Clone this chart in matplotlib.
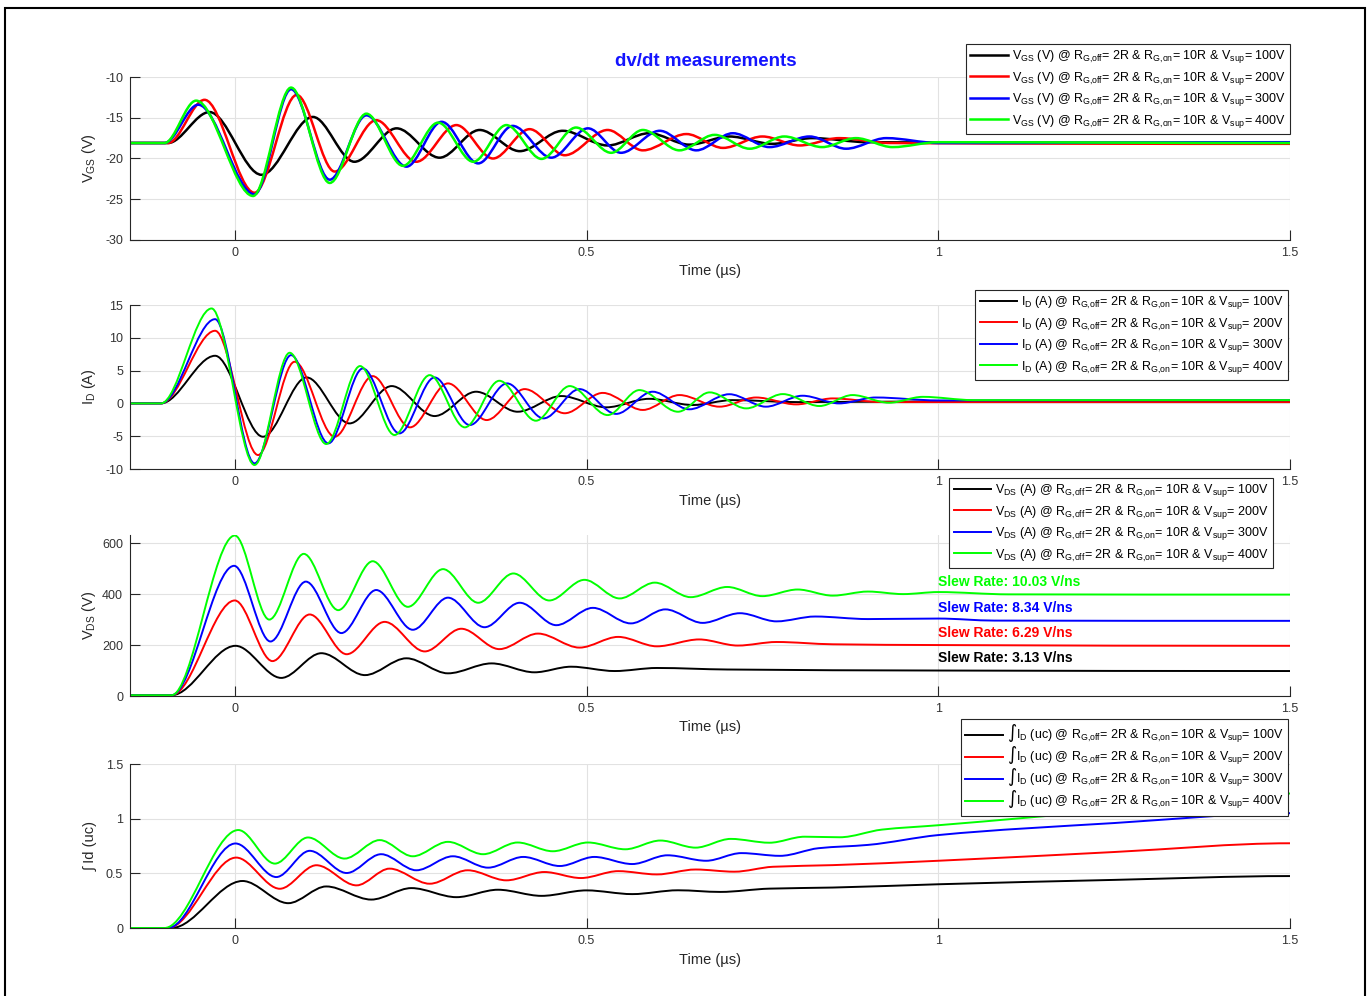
#!/usr/bin/env python3
"""
dv/dt measurements: VGS, ID, VDS and integral of ID for four supply voltages.
Values are (time in us, value) points read at the peaks and troughs of each trace.
"""

import numpy as np
import matplotlib
matplotlib.use('Agg')
import matplotlib.pyplot as plt
from matplotlib.path import Path
from matplotlib.patches import PathPatch, Rectangle
from matplotlib.lines import Line2D

plt.rcParams['font.family'] = ['Liberation Sans', 'DejaVu Sans']
plt.rcParams['mathtext.default'] = 'regular'
plt.rcParams['axes.unicode_minus'] = False

# supply voltages and trace colours
supplies = ['100V', '200V', '300V', '400V']
colors = ['#000000', '#ff0000', '#0000ff', '#00ff00']

# ---- VGS (V) ----
vgs_100 = [(-0.15, -18.1), (-0.095, -18.1), (-0.036, -14.3), (0.038, -22.0), (0.111, -14.9),
           (0.170, -20.4), (0.230, -16.3), (0.291, -19.9), (0.348, -16.5), (0.405, -19.1),
           (0.466, -16.6), (0.530, -18.4), (0.589, -16.9), (0.646, -18.3), (0.703, -17.3),
           (0.764, -18.2), (0.821, -17.5), (0.90, -18.0), (1.5, -18.1)]
vgs_200 = [(-0.15, -18.1), (-0.095, -18.1), (-0.043, -12.8), (0.028, -24.2), (0.088, -12.2),
           (0.142, -21.6), (0.201, -15.3), (0.258, -20.4), (0.315, -15.9), (0.367, -20.0),
           (0.419, -16.4), (0.469, -19.6), (0.530, -16.5), (0.580, -19.0), (0.642, -17.0),
           (0.694, -18.7), (0.750, -17.3), (0.803, -18.4), (0.859, -17.5), (0.93, -18.1),
           (1.5, -18.2)]
vgs_300 = [(-0.15, -18.1), (-0.10, -18.1), (-0.052, -13.4), (0.028, -24.4), (0.080, -11.5),
           (0.135, -22.6), (0.187, -14.7), (0.244, -21.0), (0.294, -15.5), (0.346, -20.6),
           (0.395, -16.0), (0.450, -19.9), (0.502, -16.3), (0.549, -19.3), (0.604, -16.6),
           (0.656, -19.0), (0.708, -16.9), (0.760, -18.6), (0.817, -17.3), (0.869, -18.8),
           (0.926, -17.5), (1.0, -18.1), (1.5, -18.0)]
vgs_400 = [(-0.15, -18.1), (-0.10, -18.1), (-0.055, -12.9), (0.026, -24.6), (0.080, -11.3),
           (0.135, -23.0), (0.187, -14.5), (0.239, -20.9), (0.289, -15.6), (0.339, -20.4),
           (0.386, -15.9), (0.436, -20.05), (0.485, -16.2), (0.535, -19.3), (0.580, -16.5),
           (0.632, -19.0), (0.682, -17.1), (0.732, -18.8), (0.781, -17.3), (0.835, -18.6),
           (0.883, -17.5), (0.935, -18.6), (1.0, -18.0), (1.5, -18.1)]

# ---- ID (A) ----
id_100 = [(-0.15, 0), (-0.105, 0), (-0.028, 7.26), (0.040, -5.08), (0.102, 3.96), (0.163, -3.05),
          (0.223, 2.64), (0.284, -1.93), (0.343, 1.78), (0.402, -1.27), (0.464, 1.12),
          (0.528, -0.6), (0.589, 0.7), (0.651, -0.25), (0.707, 0.5), (0.80, 0.2), (1.0, 0.3),
          (1.5, 0.25)]
id_200 = [(-0.15, 0), (-0.105, 0), (-0.028, 11.07), (0.033, -7.87), (0.085, 6.35), (0.142, -5.08),
          (0.196, 4.16), (0.249, -3.65), (0.303, 3.05), (0.358, -2.54), (0.412, 2.18),
          (0.469, -1.5), (0.523, 1.6), (0.580, -1.0), (0.632, 1.27), (0.689, -0.5), (0.741, 0.9),
          (0.798, -0.15), (0.850, 0.76), (0.92, 0.2), (1.5, 0.2)]
id_300 = [(-0.15, 0), (-0.105, 0), (-0.028, 12.84), (0.028, -9.14), (0.080, 7.36), (0.133, -6.09),
          (0.182, 5.33), (0.234, -4.57), (0.284, 3.96), (0.334, -3.3), (0.387, 3.05),
          (0.439, -2.28), (0.490, 2.18), (0.542, -1.6), (0.594, 1.78), (0.646, -0.9),
          (0.703, 1.4), (0.755, -0.5), (0.807, 1.17), (0.859, 0.0), (0.911, 0.9), (1.0, 0.45),
          (1.5, 0.5)]
id_400 = [(-0.15, 0), (-0.105, 0), (-0.033, 14.47), (0.028, -9.39), (0.078, 7.72), (0.130, -6.19),
          (0.178, 5.69), (0.227, -4.82), (0.277, 4.31), (0.327, -3.65), (0.376, 3.45),
          (0.428, -2.64), (0.476, 2.64), (0.530, -1.78), (0.575, 2.03), (0.630, -1.27),
          (0.675, 1.68), (0.727, -0.76), (0.779, 1.42), (0.831, -0.4), (0.878, 1.27),
          (0.930, 0.1), (0.978, 1.0), (1.05, 0.5), (1.5, 0.5)]

# ---- VDS (V) ----
vds_100 = [(-0.15, 3), (-0.09, 3), (0.001, 197), (0.066, 71), (0.123, 168), (0.185, 82),
           (0.244, 148), (0.303, 89), (0.365, 128), (0.426, 93), (0.478, 115), (0.54, 98),
           (0.60, 110), (0.70, 104), (1.0, 100), (1.5, 98)]
vds_200 = [(-0.15, 3), (-0.09, 3), (0.0, 375), (0.0535, 137), (0.1065, 320), (0.159, 164),
           (0.213, 291), (0.27, 175), (0.322, 264), (0.376, 184), (0.431, 245), (0.49, 190),
           (0.545, 232), (0.60, 195), (0.66, 222), (0.715, 198), (0.77, 212), (0.85, 203),
           (1.0, 200), (1.5, 197)]
vds_300 = [(-0.15, 3), (-0.09, 3), (-0.001, 511), (0.0507, 214), (0.101, 449), (0.1515, 247),
           (0.201, 416), (0.253, 260), (0.303, 386), (0.355, 270), (0.405, 366), (0.457, 278),
           (0.509, 346), (0.563, 285), (0.612, 340), (0.665, 287), (0.718, 325), (0.77, 293),
           (0.825, 312), (0.90, 302), (1.0, 304), (1.08, 296), (1.5, 295)]
vds_400 = [(-0.15, 3), (-0.09, 3), (0.0, 630), (0.049, 300), (0.098, 558), (0.147, 337),
           (0.196, 529), (0.246, 350), (0.296, 498), (0.346, 366), (0.396, 481), (0.447, 375),
           (0.497, 456), (0.547, 383), (0.597, 445), (0.648, 388), (0.70, 428), (0.75, 392),
           (0.80, 418), (0.85, 394), (0.90, 410), (0.95, 400), (1.0, 408), (1.1, 399), (1.5, 398)]

# ---- integral of ID (uC) ----
int_100 = [(-0.15, 0), (-0.09, 0), (0.011, 0.43), (0.076, 0.227), (0.130, 0.38), (0.194, 0.26),
           (0.251, 0.365), (0.315, 0.282), (0.374, 0.35), (0.436, 0.294), (0.5, 0.344),
           (0.565, 0.31), (0.63, 0.345), (0.69, 0.33), (0.76, 0.36), (0.85, 0.37), (1.0, 0.40),
           (1.25, 0.44), (1.5, 0.475)]
int_200 = [(-0.15, 0), (-0.095, 0), (0.002, 0.644), (0.064, 0.359), (0.116, 0.574), (0.173, 0.39),
           (0.22, 0.543), (0.277, 0.405), (0.331, 0.528), (0.386, 0.436), (0.44, 0.512),
           (0.492, 0.457), (0.545, 0.52), (0.60, 0.49), (0.655, 0.535), (0.71, 0.515),
           (0.765, 0.56), (0.85, 0.575), (1.0, 0.615), (1.25, 0.695), (1.5, 0.775)]
int_300 = [(-0.15, 0), (-0.095, 0), (0.001, 0.773), (0.059, 0.466), (0.1065, 0.706), (0.159, 0.503),
           (0.208, 0.675), (0.258, 0.528), (0.31, 0.656), (0.36, 0.552), (0.41, 0.65),
           (0.462, 0.567), (0.511, 0.65), (0.565, 0.585), (0.615, 0.665), (0.67, 0.615),
           (0.72, 0.685), (0.775, 0.66), (0.83, 0.73), (0.9, 0.76), (1.0, 0.85), (1.25, 0.96),
           (1.5, 1.05)]
int_400 = [(-0.15, 0), (-0.10, 0), (0.005, 0.896), (0.057, 0.589), (0.104, 0.828), (0.156, 0.635),
           (0.206, 0.804), (0.253, 0.656), (0.303, 0.788), (0.353, 0.675), (0.402, 0.782),
           (0.452, 0.702), (0.502, 0.782), (0.555, 0.72), (0.605, 0.80), (0.655, 0.735),
           (0.705, 0.815), (0.76, 0.78), (0.81, 0.835), (0.86, 0.83), (0.92, 0.9), (1.0, 0.94),
           (1.25, 1.08), (1.5, 1.23)]

slew_rates = ['3.13', '6.29', '8.34', '10.03']
slew_y = [150, 249, 347, 446]

x_ticks = [0, 0.5, 1, 1.5]
x_tick_labels = ['0', '0.5', '1', '1.5']
int_ticks = [0, 0.5, 1, 1.5]
int_tick_labels = ['0', '0.5', '1', '1.5']

W, H = 1371, 996


def smooth_path(points):
    """Monotone cubic (PCHIP-style) Bezier path through the read points."""
    t = np.array([p[0] for p in points], dtype=float)
    v = np.array([p[1] for p in points], dtype=float)
    h = np.diff(t)
    d = np.diff(v) / h
    m = np.zeros(len(t))
    for k in range(1, len(t) - 1):
        if d[k - 1] * d[k] > 0:
            w1 = 2 * h[k] + h[k - 1]
            w2 = h[k] + 2 * h[k - 1]
            m[k] = (w1 + w2) / (w1 / d[k - 1] + w2 / d[k])
    verts = [(t[0], v[0])]
    codes = [Path.MOVETO]
    for k in range(len(t) - 1):
        verts.append((t[k] + h[k] / 3, v[k] + m[k] * h[k] / 3))
        verts.append((t[k + 1] - h[k] / 3, v[k + 1] - m[k + 1] * h[k] / 3))
        verts.append((t[k + 1], v[k + 1]))
        codes += [Path.CURVE4] * 3
    return Path(verts, codes)


def style_axes(ax, ylim, yticks, ylabel):
    ax.set_xlim(-0.149, 1.5)
    ax.set_ylim(*ylim)
    ax.set_xticks(x_ticks)
    ax.set_xticklabels(x_tick_labels)
    ax.set_yticks(yticks)
    ax.grid(True, color='#e2e2e2', lw=0.8)
    ax.set_axisbelow(True)
    for s in ['top', 'right']:
        ax.spines[s].set_visible(False)
    for s in ['left', 'bottom']:
        ax.spines[s].set_color('#262626')
        ax.spines[s].set_linewidth(0.8)
    ax.tick_params(direction='in', length=7, width=0.8, colors='#262626',
                   labelcolor='#333333', labelsize=9, pad=5)
    ax.set_xlabel('Time (µs)', fontsize=10.5, color='#262626')
    ax.xaxis.set_label_coords(0.5, -0.15)
    ax.set_ylabel(ylabel, fontsize=10.5, color='#262626')
    ax.yaxis.set_label_coords(-0.028, 0.5)


def draw_panel(ax, series, lw):
    for pts, c in zip(series, colors):
        ax.add_patch(PathPatch(smooth_path(pts), fill=False, edgecolor=c, lw=lw,
                               capstyle='round', joinstyle='round'))


def add_legend(ax, prefix, right_px, top_px, lw, spacing=0.36):
    handles = [Line2D([], [], color=c, lw=lw) for c in colors]
    labels = [prefix + ' @ R$_{G{,}off}$= 2R & R$_{G{,}on}$= 10R & V$_{sup}$= ' + s
              for s in supplies]
    leg = ax.legend(handles, labels, loc='upper right',
                    bbox_to_anchor=(right_px / W, 1 - top_px / H),
                    bbox_transform=ax.figure.transFigure, fontsize=9,
                    fancybox=False, framealpha=1, edgecolor='#262626',
                    handlelength=3.0, handletextpad=0.3, labelspacing=spacing,
                    borderpad=0.35, borderaxespad=0)
    leg.get_frame().set_linewidth(0.8)


fig = plt.figure(figsize=(W / 100, H / 100), dpi=100)

left, width = 130 / W, (1290 - 130) / W
boxes = [(77, 240), (305, 469), (535, 696), (764, 928)]
axes = [fig.add_axes([left, 1 - b / H, width, (b - t) / H]) for t, b in boxes]
ax1, ax2, ax3, ax4 = axes

draw_panel(ax1, [vgs_100, vgs_200, vgs_300, vgs_400], 1.8)
style_axes(ax1, (-30, -10), [-30, -25, -20, -15, -10], 'V$_{GS}$ (V)')
add_legend(ax1, 'V$_{GS}$ (V)', 1290, 44, 1.8)

draw_panel(ax2, [id_100, id_200, id_300, id_400], 1.4)
style_axes(ax2, (-10, 15), [-10, -5, 0, 5, 10, 15], 'I$_D$ (A)')
add_legend(ax2, 'I$_D$ (A)', 1288, 290, 1.4)

draw_panel(ax3, [vds_100, vds_200, vds_300, vds_400], 1.4)
style_axes(ax3, (0, 632), [0, 200, 400, 600], 'V$_{DS}$ (V)')
add_legend(ax3, 'V$_{DS}$ (A)', 1273, 478, 1.4)
for c, sr, y in zip(colors, slew_rates, slew_y):
    ax3.text(1.0, y, 'Slew Rate: ' + sr + ' V/ns', color=c, fontsize=10,
             fontweight='bold', ha='left', va='center')

draw_panel(ax4, [int_100, int_200, int_300, int_400], 1.4)
style_axes(ax4, (0, 1.5), int_ticks, '∫ Id (uc)')
ax4.set_yticklabels(int_tick_labels)
add_legend(ax4, '∫I$_D$ (uc)', 1288, 719, 1.4, spacing=0.0)

fig.text(706 / W, 1 - 61 / H, 'dv/dt measurements', fontsize=13.5, fontweight='bold',
         color='#1414ff', ha='center', va='center')

# outer frame around the whole figure
fig.patches.append(Rectangle((5 / W, -0.01), (1365 - 5) / W, (996 - 8) / H + 0.01,
                             transform=fig.transFigure, fill=False, ec='black', lw=1.5))

fig.savefig('out.png', dpi=100)
